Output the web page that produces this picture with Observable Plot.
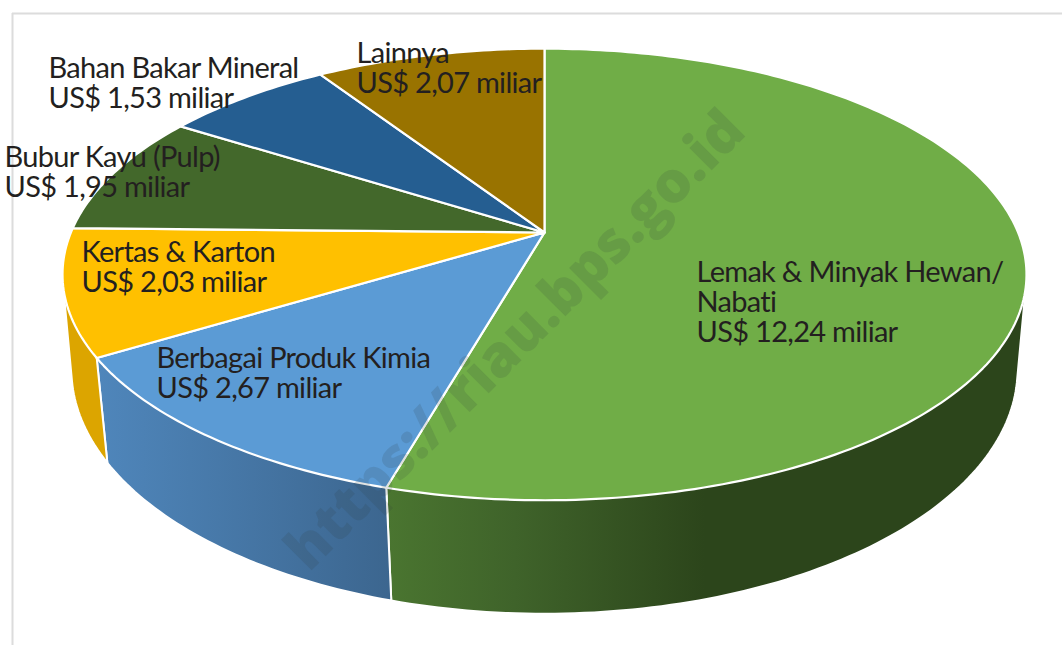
<!DOCTYPE html>
<html>
<head>
<meta charset="utf-8">
<script src="https://cdn.jsdelivr.net/npm/d3@7"></script>
<script src="https://cdn.jsdelivr.net/npm/@observablehq/plot@0.6"></script>
<style>html,body{margin:0;padding:0;background:#fff}svg{display:block}.slice-label,.slice-label text,.slice-label tspan{letter-spacing:-0.7px}</style>
</head>
<body>
<div id="chart"></div>
<script>
// Data
const categories = ["Lemak & Minyak Hewan/\nNabati","Berbagai Produk Kimia","Kertas & Karton","Bubur Kayu (Pulp)","Bahan Bakar Mineral","Lainnya"];
const values = [12.24,2.67,2.03,1.95,1.53,2.07];
const valueLabels = ["US$ 12,24 miliar","US$ 2,67 miliar","US$ 2,03 miliar","US$ 1,95 miliar","US$ 1,53 miliar","US$ 2,07 miliar"];
// Styles
const topColors = ["#70ad47","#5b9bd5","#ffc000","#43682b","#255e91","#997300"];
// Layout of the labels (left edge, first baseline)
const labelX = [696,156,81,4,48,356];
const labelY = [282,368,262,167,78,63];
const watermark = "https://riau.bps.go.id";

// Perspective disc: top face and bottom face
const TOP = {cx:544, cy:232, r:473.6, s:218, k:0.1858};
const BOT = {cx:544, cy:327, r:466, s:237, k:0.172};
const project = (f, deg) => {
  const t = deg*Math.PI/180, w = 1+f.k*Math.cos(t);
  return [f.cx+f.r*Math.sin(t)/w, f.cy-f.s*Math.cos(t)/w];
};
const total = d3.sum(values);
const cum = d3.cumsum(values).map(v => v/total*360);
const starts = [0,...cum.slice(0,-1)];
const arc = (f,a,b) => d3.range(0,Math.max(2,Math.ceil(Math.abs(b-a)))+1).map((i,_,r)=>project(f,a+(b-a)*i/(r.length-1)));

// Top-face polygons
const topRows = categories.flatMap((c,i)=>{
  const pts=[[TOP.cx,TOP.cy],...arc(TOP,starts[i],cum[i]),[TOP.cx,TOP.cy]];
  return pts.map(([x,y])=>({name:c,x,y}));
});
// Side walls (hull of the top and bottom arcs), only the front ones show
const wall = (a,b) => {
  const h = d3.polygonHull([...arc(TOP,a,b),...arc(BOT,a,b)]);
  return [...h,h[0]].map(([x,y])=>({x,y}));
};
const wallGreen = wall(80,cum[0]);
const wallBlue = wall(cum[0],cum[1]);
const wallYellow = wall(cum[1],cum[2]+1);

const defs = () => {
  const d = d3.create("svg:defs");
  const g1 = d.append("linearGradient").attr("id","gGreen").attr("gradientUnits","userSpaceOnUse").attr("x1",388).attr("x2",1020).attr("y1",0).attr("y2",0);
  [[0,"#4a7530"],[0.2,"#3f632a"],[0.5,"#2c451b"],[1,"#2c451b"]].forEach(([o,c])=>g1.append("stop").attr("offset",o).attr("stop-color",c));
  const g2 = d.append("linearGradient").attr("id","gBlue").attr("gradientUnits","userSpaceOnUse").attr("x1",97).attr("x2",390).attr("y1",0).attr("y2",0);
  [[0,"#4f86bb"],[1,"#3c668f"]].forEach(([o,c])=>g2.append("stop").attr("offset",o).attr("stop-color",c));
  return d.node();
};

const labelRows = categories.map((c,i)=>({text:c+"\n"+valueLabels[i],x:labelX[i],y:labelY[i]}));

const chart = Plot.plot({
  width:1062,height:645,margin:0,
  x:{domain:[0,1062],range:[0,1062],axis:null},
  y:{domain:[0,645],range:[0,645],axis:null},
  color:{domain:categories,range:topColors},
  marks:[
    defs,
    Plot.ruleX([12],{y1:13,y2:645,stroke:"#dcdcdc",strokeWidth:2}),
    Plot.ruleY([13],{x1:12,x2:1062,stroke:"#dcdcdc",strokeWidth:2}),
    Plot.line(wallGreen,{x:"x",y:"y",fill:"url(#gGreen)",stroke:"#fff",strokeWidth:2,curve:"linear"}),
    Plot.line(wallBlue,{x:"x",y:"y",fill:"url(#gBlue)",stroke:"#fff",strokeWidth:2,curve:"linear"}),
    Plot.line(wallYellow,{x:"x",y:"y",fill:"#dca500",stroke:"#fff",strokeWidth:2,curve:"linear"}),
    Plot.line(topRows,{x:"x",y:"y",z:"name",fill:"name",stroke:"#fff",strokeWidth:2.2,strokeLinejoin:"round",curve:"linear"}),
    Plot.text(labelRows,{x:"x",y:"y",text:"text",textAnchor:"start",lineAnchor:"top",dy:-22,fontSize:29,lineHeight:1.035,
      fontFamily:"Lato,sans-serif",fill:"#231f20",
      render:(i,s,v,d,c,next)=>{const g=next(i,s,v,d,c);g.classList.add("slice-label");return g;}}),
    Plot.text([watermark],{x:()=>515,y:()=>340,text:d=>d,rotate:-45,fontSize:57,fontWeight:800,
      fontFamily:"'Open Sans',sans-serif",fill:"#2f3f3f",fillOpacity:0.15})
  ]
});
document.getElementById("chart").append(chart);
</script>
</body>
</html>
